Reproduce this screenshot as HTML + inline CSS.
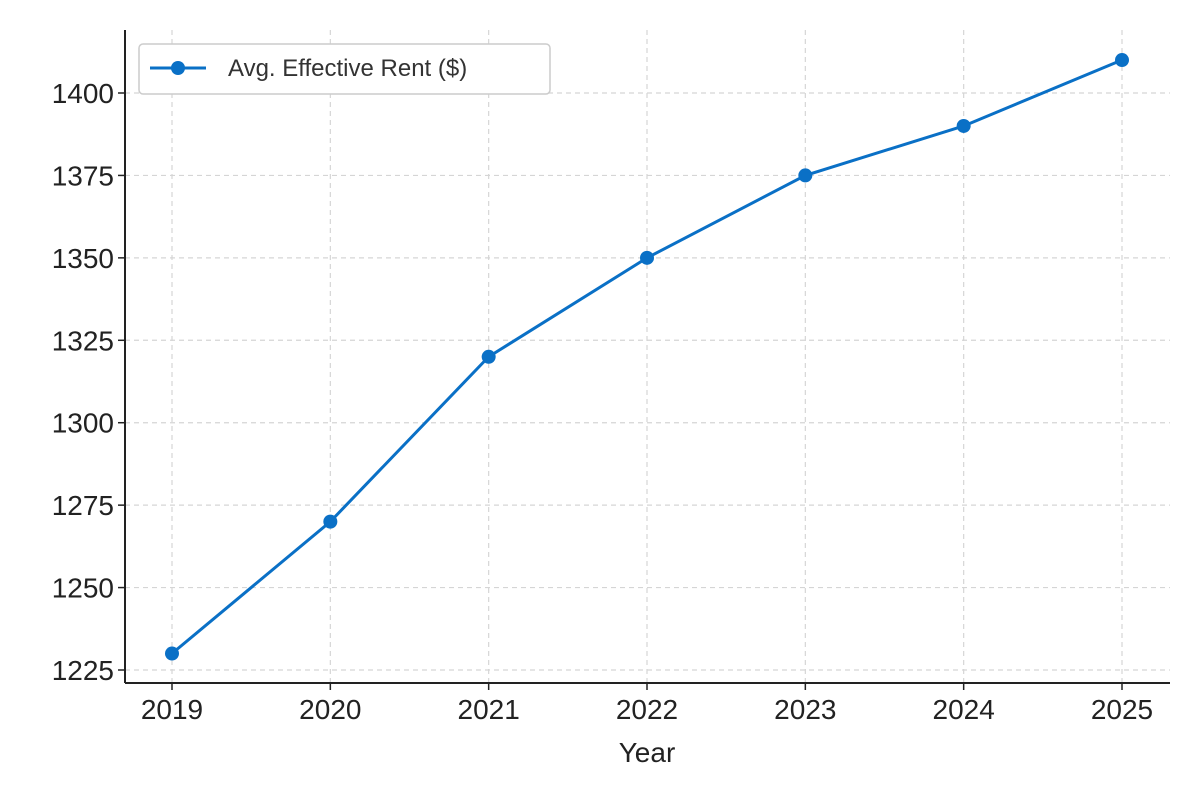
<!DOCTYPE html>
<html><head><meta charset="utf-8"><style>
html,body{margin:0;padding:0;background:#fff;}
svg{display:block;font-family:"Liberation Sans","DejaVu Sans",sans-serif;}
</style></head><body>
<svg id="chart" width="1200" height="800" viewBox="0 0 1200 800">
<g id="grid"></g>
<g id="axes"></g>
<g id="series"></g>
<text x="647" y="762" font-size="28" fill="#222" text-anchor="middle">Year</text>
<g>
<rect x="139" y="44" width="411" height="50" rx="4" fill="#fff" stroke="#ccc" stroke-width="1.5"/>
<line x1="150" y1="68" x2="206" y2="68" stroke="#0a70c6" stroke-width="3"/>
<circle cx="178" cy="68" r="7" fill="#0a70c6"/>
<text x="228" y="76" font-size="24" fill="#333">Avg. Effective Rent ($)</text>
</g>
</svg>
<script>
const years = [2019, 2020, 2021, 2022, 2023, 2024, 2025];
const rent = [1230, 1270, 1320, 1350, 1375, 1390, 1410];
const yTicks = [1225, 1250, 1275, 1300, 1325, 1350, 1375, 1400];
const NS = "http://www.w3.org/2000/svg";
function xs(v){return 172 + (v - 2019) * (1122 - 172) / 6;}
function ys(v){return 670 - (v - 1225) * (670 - 93) / 175;}
function mk(tag, attrs, parent){const e=document.createElementNS(NS,tag);for(const k in attrs)e.setAttribute(k,attrs[k]);parent.appendChild(e);return e;}
const grid=document.getElementById('grid'), axes=document.getElementById('axes'), series=document.getElementById('series');
years.forEach(y=>{
  const l=mk('line',{x1:xs(y),x2:xs(y),y1:30,y2:683,stroke:'#d5d5d5','stroke-width':1.2,'stroke-dasharray':'5,4'},grid);
  
  
  const t=mk('text',{x:xs(y),y:719,'font-size':28,fill:'#222','text-anchor':'middle'},axes);
  t.textContent=y;
  
  
  const tk=mk('line',{x1:xs(y),x2:xs(y),y1:683,y2:690,stroke:'#222','stroke-width':1.5},axes);
  
  
});
yTicks.forEach(v=>{
  const l=mk('line',{x1:125,x2:1170,y1:ys(v),y2:ys(v),stroke:'#d5d5d5','stroke-width':1.2,'stroke-dasharray':'5,4'},grid);
  
  
  const t=mk('text',{x:114,y:ys(v)+10,'font-size':28,fill:'#222','text-anchor':'end'},axes);
  t.textContent=v;
  
  
  const tk=mk('line',{x1:118,x2:125,y1:ys(v),y2:ys(v),stroke:'#222','stroke-width':1.5},axes);
  
  
});
const ls=mk('line',{x1:125,x2:125,y1:30,y2:683,stroke:'#222','stroke-width':2},axes);


const bs=mk('line',{x1:125,x2:1170,y1:683,y2:683,stroke:'#222','stroke-width':2},axes);


const pts=years.map((y,i)=>xs(y)+','+ys(rent[i])).join(' ');
const pl=mk('polyline',{points:pts,fill:'none',stroke:'#0a70c6','stroke-width':3},series);


years.forEach((y,i)=>{
  const c=mk('circle',{cx:xs(y),cy:ys(rent[i]),r:7,fill:'#0a70c6'},series);
  
  
});
</script>
</body></html>
